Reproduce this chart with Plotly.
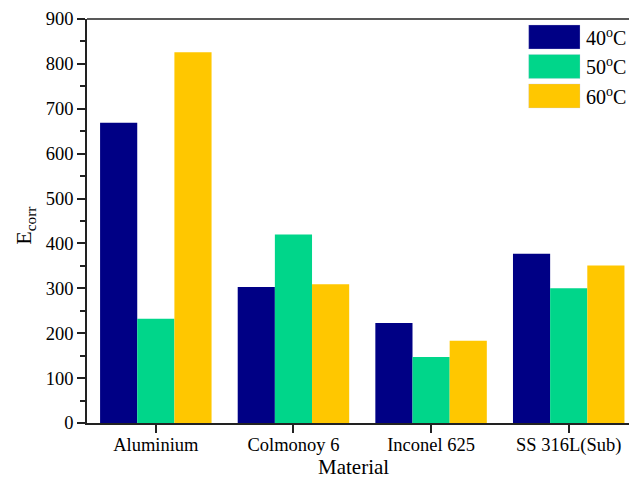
import plotly.graph_objects as go

materials = ["Aluminium", "Colmonoy 6", "Inconel 625", "SS 316L(Sub)"]
series_names = ["40<sup>o</sup>C", "50<sup>o</sup>C", "60<sup>o</sup>C"]
e_40 = [669, 303, 223, 377]
e_50 = [232, 420, 147, 300]
e_60 = [826, 309, 183, 351]
colors = ["#000085", "#00D68A", "#FFC700"]
y_ticks = [0, 100, 200, 300, 400, 500, 600, 700, 800, 900]

FONT = "Liberation Serif, Times New Roman, serif"
L, T, W, H = 87, 19, 542, 404.5

fig = go.Figure()
for name, vals, col in zip(series_names, [e_40, e_50, e_60], colors):
    fig.add_trace(go.Bar(
        x=materials, y=vals, name=name,
        marker=dict(color=col, line=dict(width=0)),
        showlegend=False,
    ))

# custom legend (large swatches like the reference)
for i, (name, col) in enumerate(zip(series_names, colors)):
    y0 = 1 - (6 + i * 29.5) / H
    y1 = y0 - 24 / H
    fig.add_shape(type="rect", xref="paper", yref="paper",
                  x0=(528.7 - L) / W, x1=(580 - L) / W, y0=y1, y1=y0,
                  fillcolor=col, line=dict(width=0.5, color="rgba(200,200,230,0.6)"))
    fig.add_annotation(xref="paper", yref="paper",
                       x=(584 - L) / W, y=(y0 + y1) / 2,
                       text=name, showarrow=False, xanchor="left", yanchor="middle",
                       font=dict(family=FONT, size=20, color="black"))

# top border line
fig.add_shape(type="line", xref="paper", yref="paper", x0=0, x1=1, y0=1, y1=1,
              line=dict(color="#222", width=1.6))

# axis titles
fig.add_annotation(xref="paper", yref="paper", x=(353 - L) / W, y=-(468 - (T + H)) / H,
                   text="Material", showarrow=False, xanchor="center", yanchor="middle",
                   font=dict(family=FONT, size=21, color="black"))
fig.add_annotation(xref="paper", yref="paper", x=-(L - 25) / W, y=(T + H - 226) / H,
                   text="E<sub>corr</sub>", showarrow=False, textangle=-90,
                   xanchor="center", yanchor="middle",
                   font=dict(family=FONT, size=22, color="black"))

fig.update_layout(
    width=629, height=487,
    margin=dict(l=L, r=0, t=T, b=487 - T - H),
    plot_bgcolor="white", paper_bgcolor="white",
    barmode="group", bargap=0.19, bargroupgap=0,
    font=dict(family=FONT, size=18, color="black"),
    xaxis=dict(
        range=[-0.5, 3.438], automargin=False,
        showline=True, linecolor="#222", linewidth=1.6,
        ticks="outside", ticklen=8, tickwidth=1.5, tickcolor="#222",
        tickfont=dict(family=FONT, size=18.5), ticklabelstandoff=-4,
        showgrid=False, zeroline=False,
    ),
    yaxis=dict(
        range=[0, 900], automargin=False,
        tickvals=y_ticks,
        showline=True, linecolor="#222", linewidth=1.6,
        ticks="outside", ticklen=8, tickwidth=1.5, tickcolor="#222",
        minor=dict(ticks="outside", ticklen=5, tickwidth=1.5, tickcolor="#222", dtick=50),
        tickfont=dict(family=FONT, size=18.5),
        showgrid=False, zeroline=False,
    ),
)

fig.write_html("out.html", config={"displayModeBar": False},
               post_script="document.body.style.margin='0px';")
